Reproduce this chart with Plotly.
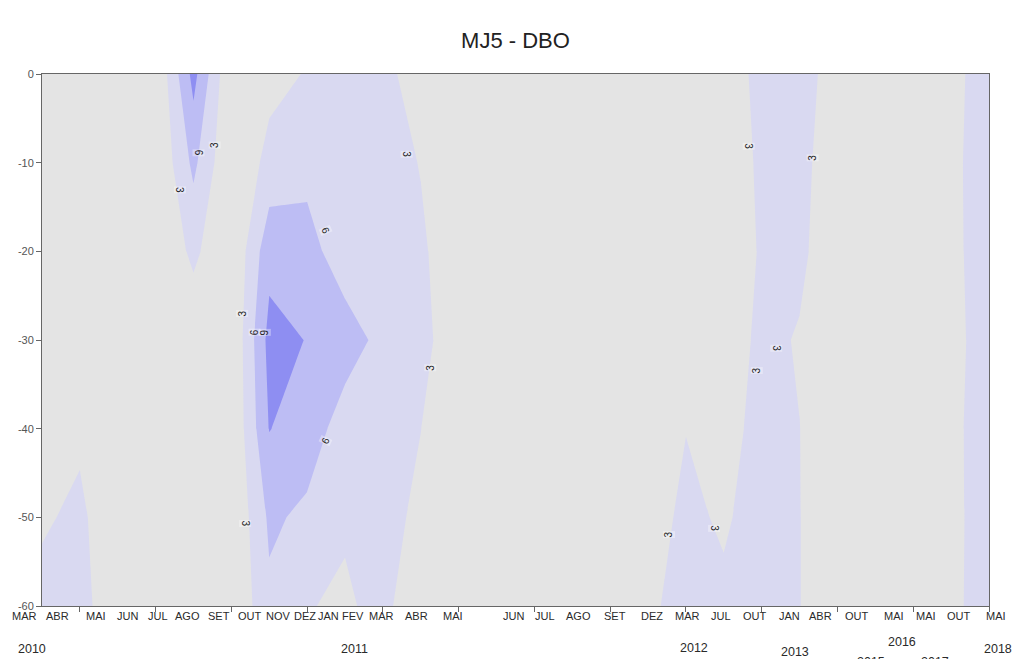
import plotly.graph_objects as go

# Sampling columns (position along the monitoring series) and depths (m)
campanha = list(range(1, 27))
profundidade = [0, -10, -20, -30, -40, -50, -60]

# DBO (mg/L) per depth, one value per sampling column
dbo_0m = [0, 0, 0, 0, 10, 0, 2, 3.2, 4, 4.2, 1, 0, 0, 0, 0, 0, 0, 0, 0, 4.6, 4.4, 1.5, 0, 0, 2.4, 4]
dbo_10m = [0, 0, 0, 0, 6.7, 0, 4, 5.2, 4.5, 5.0, 2.8, 0, 0, 0, 0, 0, 0, 0, 0, 3.85, 4.0, 1, 0, 0, 2.5, 4.1]
dbo_20m = [0, 0, 0, 0, 3.7, 0, 8, 7, 4.5, 5.0, 3.75, 0, 0, 0, 0, 0, 0, 0, 0, 3.45, 3.8, 0.5, 0, 0, 2.5, 4]
dbo_30m = [0, 0, 0, 0, 0.8, 0, 10, 8.9, 7.3, 5.2, 4.5, 0, 0, 0, 0, 0, 0, 0, 0.5, 4.0, 2.7, 0, 0, 0, 2.4, 3.9]
dbo_40m = [0, 2.3, 0, 0, 0, 0, 9.1, 7.5, 4.7, 4.5, 3.05, 0, 0, 0, 0, 0, 0, 2.9, 1, 4.77, 3.05, 0, 0, 0, 2.5, 4]
dbo_50m = [2.5, 3.8, 0, 0, 0, 0, 6.5, 5.4, 3.43, 4.6, 2, 0, 0, 0, 0, 0, 1, 4, 2.4, 5, 3.1, 0, 0, 0, 2.4, 4.1]
dbo_60m = [4.2, 4.5, 0, 0, 0, 0, 5.4, 3.18, 2.48, 4.1, 0, 0, 0, 0, 0, 0, 2, 5, 3.9, 4.5, 3.1, 0, 0, 0, 2.5, 4]

# Contour levels (mg/L)
niveis = [3, 6, 9]

# Month labels of the campaigns and their horizontal place (fraction of plot width)
meses = ["MAR", "ABR", "MAI", "JUN", "JUL", "AGO", "SET", "OUT", "NOV", "DEZ",
         "JAN", "FEV", "MAR", "ABR", "MAI", "JUN", "JUL", "AGO", "SET", "DEZ",
         "MAR", "JUL", "OUT", "JAN", "ABR", "OUT", "MAI", "MAI", "OUT", "MAI"]
meses_pos = [-0.019, 0.016, 0.057, 0.090, 0.123, 0.154, 0.187, 0.220, 0.250, 0.278,
             0.303, 0.328, 0.359, 0.395, 0.434, 0.498, 0.531, 0.566, 0.605, 0.644,
             0.682, 0.717, 0.753, 0.789, 0.822, 0.861, 0.900, 0.934, 0.968, 1.007]

# Year labels: text, horizontal place, vertical place (fractions of the plot box)
anos = ["2010", "2011", "2012", "2013", "2015", "2016", "2017", "2018"]
anos_pos = [-0.011, 0.330, 0.688, 0.795, 0.875, 0.908, 0.943, 1.010]
anos_alt = [-0.081, -0.081, -0.079, -0.086, -0.106, -0.068, -0.106, -0.080]

# Contour labels: level index, x (column), depth, text angle
rotulos = [
    (0, 4.65, -13.1, 90), (1, 5.12, -8.9, 90), (0, 5.57, -8.0, -90),
    (0, 6.28, -27.0, -90), (1, 6.60, -29.1, -90), (2, 6.87, -29.1, -90),
    (1, 8.48, -17.7, 66), (1, 8.48, -41.3, -65), (0, 6.36, -50.7, 90),
    (0, 10.62, -9.1, 90), (0, 11.25, -33.1, -90),
    (0, 19.65, -8.2, 90), (0, 21.34, -9.4, -90), (0, 20.37, -30.9, 90),
    (0, 19.86, -33.4, -90), (0, 17.54, -52.0, -90), (0, 18.73, -51.2, 90),
]

CINZA = "#e4e4e4"
LILAS1 = "#d9d9f1"
LILAS2 = "#bdbdf4"
LILAS3 = "#8e8ef2"

escala = [
    [0.0, CINZA], [0.2, CINZA],
    [0.2, LILAS1], [0.5, LILAS1],
    [0.5, LILAS2], [0.75, LILAS2],
    [0.75, LILAS3], [1.0, LILAS3],
]

FONTE = "Liberation Sans, Arial, sans-serif"
FONTE_ESTREITA = "Liberation Sans Narrow, Arial Narrow, Liberation Sans, Arial, sans-serif"

fig = go.Figure()
fig.add_trace(go.Contour(
    x=campanha,
    y=profundidade,
    z=[dbo_0m, dbo_10m, dbo_20m, dbo_30m, dbo_40m, dbo_50m, dbo_60m],
    zmin=0, zmax=12,
    colorscale=escala,
    showscale=False,
    contours=dict(start=niveis[0], end=niveis[-1], size=niveis[1] - niveis[0],
                  coloring="fill", showlabels=False),
    line=dict(width=0, smoothing=0),
    hoverinfo="skip",
))

# level labels written along the contour lines
for idx, cx, cy, ang in rotulos:
    fig.add_annotation(text=str(niveis[idx]), x=cx, y=cy, xref="x", yref="y",
                       showarrow=False, textangle=ang, borderpad=0,
                       bgcolor="rgba(255,255,255,0.35)",
                       font=dict(size=10, color="#222222", family=FONTE))

for txt, px in zip(meses, meses_pos):
    fig.add_annotation(text=txt, x=px, y=-0.019, xref="paper", yref="paper",
                       showarrow=False, xanchor="center", yanchor="middle",
                       font=dict(size=11, color="#2a2a2a", family=FONTE_ESTREITA))

for txt, px, py in zip(anos, anos_pos, anos_alt):
    fig.add_annotation(text=txt, x=px, y=py, xref="paper", yref="paper",
                       showarrow=False, xanchor="center", yanchor="middle",
                       font=dict(size=12.5, color="#2a2a2a", family=FONTE))

fig.update_layout(
    width=1020, height=659,
    margin=dict(l=42, r=31, t=74, b=53),
    paper_bgcolor="white",
    plot_bgcolor=CINZA,
    title=dict(text="MJ5 - DBO", x=0.5, xref="paper", y=1 - 40 / 659,
               yanchor="middle", xanchor="center",
               font=dict(size=22, color="#222222", family=FONTE)),
    showlegend=False,
)

fig.update_xaxes(
    range=[1, 26], showgrid=False, zeroline=False,
    showline=True, mirror=True, linecolor="#666666", linewidth=1,
    tickmode="array", tickvals=list(range(2, 27, 2)), ticks="outside",
    ticklen=5, tickcolor="#666666", showticklabels=False,
)
fig.update_yaxes(
    range=[-60, 0], showgrid=False, zeroline=False,
    showline=True, mirror=True, linecolor="#666666", linewidth=1,
    tickmode="array", tickvals=[0, -10, -20, -30, -40, -50, -60],
    ticktext=["0", "-10", "-20", "-30", "-40", "-50", "-60"],
    ticks="outside", ticklen=5, tickcolor="#666666",
    tickfont=dict(size=11, color="#555555", family=FONTE),
)

fig.write_html("out.html")
